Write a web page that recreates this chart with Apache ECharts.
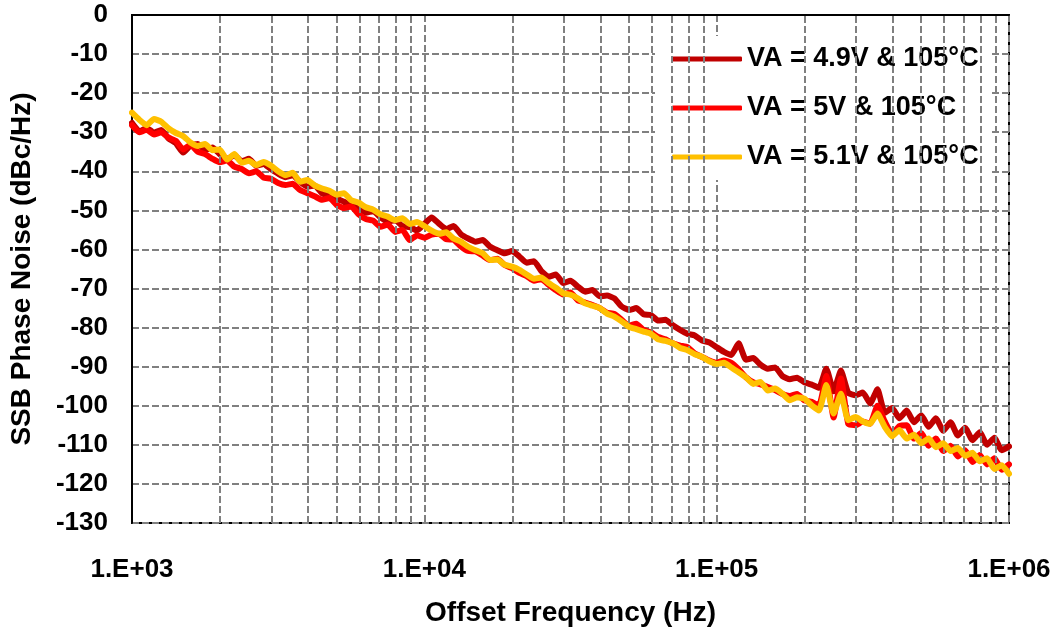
<!DOCTYPE html>
<html>
<head>
<meta charset="utf-8">
<script src="https://cdn.jsdelivr.net/npm/echarts@6/dist/echarts.min.js"></script>
<style>
  html, body { margin: 0; padding: 0; background: #fff; }
  #chart { width: 1062px; height: 632px; }
</style>
</head>
<body>
<div id="chart"></div>
<script>
// Offset frequency points (Hz), shared by all three traces
const freqHz = [
  1000, 1059, 1122, 1189, 1259, 1334, 1413, 1496, 1585, 1679,
  1778, 1884, 1995, 2113, 2239, 2371, 2512, 2661, 2818, 2985,
  3162, 3350, 3548, 3758, 3981, 4217, 4467, 4732, 5012, 5309,
  5623, 5957, 6310, 6683, 7079, 7499, 7943, 8414, 8913, 9441,
  10000, 10593, 11220, 11885, 12589, 13335, 14125, 14962, 15849, 16788,
  17783, 18836, 19953, 21135, 22387, 23714, 25119, 26607, 28184, 29854,
  31623, 33497, 35481, 37584, 39811, 42170, 44668, 47315, 50119, 53088,
  56234, 59566, 63096, 66834, 70795, 74989, 79433, 84140, 89125, 94406,
  100000, 105925, 112202, 118850, 125893, 133352, 141254, 149624, 158489, 167880,
  177828, 188365, 199526, 211349, 223872, 237137, 251189, 266073, 281838, 298538,
  316228, 334965, 354813, 375837, 398107, 421697, 446684, 473151, 501187, 530884,
  562341, 595662, 630957, 668344, 707946, 749894, 794328, 841395, 891251, 944061,
  1000000
];

// SSB phase noise (dBc/Hz), VA = 4.9 V
const noiseVA49 = [
  -27.6, -29.8, -28.9, -30.1, -29.4, -31.6, -32.8, -35.2, -33.4, -33.0,
  -34.6, -33.9, -35.6, -36.8, -35.9, -37.4, -36.8, -38.6, -38.1, -39.4,
  -40.6, -41.5, -41.0, -42.7, -43.9, -43.6, -45.6, -46.2, -47.0, -47.8,
  -48.9, -49.2, -50.6, -50.2, -51.8, -52.9, -52.5, -54.0, -54.3, -55.1,
  -53.5, -51.8, -53.4, -54.8, -54.0, -56.1, -57.2, -58.0, -57.6, -59.3,
  -60.2, -61.0, -60.4, -61.8, -63.4, -63.0, -65.5, -67.0, -66.4, -68.6,
  -68.0, -69.5, -70.8, -70.4, -72.0, -71.8, -72.5, -74.6, -75.5, -75.0,
  -76.6, -76.8, -78.2, -78.0, -79.4, -80.6, -81.6, -82.0, -83.3, -83.8,
  -85.0, -86.2, -87.0, -84.0, -88.2, -87.8, -89.5, -90.5, -90.2, -92.4,
  -93.2, -92.8, -94.0, -94.6, -95.4, -90.5, -96.3, -91.0, -96.7, -97.3,
  -96.6, -99.4, -95.8, -101.8, -100.6, -103.2, -101.2, -104.2, -102.4, -105.4,
  -103.2, -106.4, -104.2, -107.6, -105.6, -108.8, -106.8, -110.0, -108.2, -111.4,
  -110.4
];

// SSB phase noise (dBc/Hz), VA = 5 V
const noiseVA50 = [
  -28.2, -30.0, -29.4, -30.6, -30.0, -31.4, -32.2, -34.4, -33.2, -35.0,
  -35.6, -36.8, -37.7, -37.2, -38.8, -39.4, -40.5, -40.0, -41.6, -41.9,
  -43.0, -43.5, -43.2, -44.8, -45.6, -46.4, -47.3, -46.8, -48.6, -49.4,
  -49.0, -51.0, -52.2, -52.6, -54.2, -53.6, -55.5, -55.0, -57.6, -56.4,
  -57.0, -56.2, -56.0, -57.4, -57.5, -59.2, -60.4, -60.5, -61.6, -62.7,
  -62.4, -64.0, -64.8, -66.0, -66.8, -68.0, -67.6, -69.0, -70.4, -71.5,
  -71.0, -73.0, -73.6, -74.2, -75.0, -76.2, -76.5, -78.0, -79.5, -79.0,
  -80.6, -81.2, -82.4, -83.0, -84.0, -84.6, -85.0, -86.6, -87.5, -88.4,
  -89.0, -88.4, -89.0, -90.6, -92.7, -94.0, -94.5, -95.2, -96.0, -97.0,
  -97.5, -97.0, -98.6, -99.0, -100.0, -92.4, -103.0, -93.0, -104.6, -105.0,
  -104.0, -104.6, -100.0, -104.0, -107.2, -105.2, -105.0, -108.4, -107.0, -110.2,
  -108.4, -111.6, -110.2, -113.0, -111.4, -114.4, -112.6, -115.0, -113.4, -116.4,
  -115.0
];

// SSB phase noise (dBc/Hz), VA = 5.1 V
const noiseVA51 = [
  -25.0, -26.8, -28.2, -26.6, -27.3, -29.0, -30.2, -31.0, -32.6, -33.5,
  -33.0, -34.6, -34.4, -37.0, -35.6, -37.8, -37.3, -38.4, -37.6, -38.5,
  -40.0, -41.0, -40.4, -42.7, -42.2, -43.6, -44.4, -45.0, -46.0, -45.6,
  -47.4, -48.0, -49.2, -49.8, -51.0, -51.6, -52.5, -52.0, -53.5, -53.0,
  -54.0, -55.2, -56.0, -55.6, -57.2, -58.0, -59.3, -60.2, -61.0, -62.7,
  -62.6, -63.9, -64.4, -65.2, -66.4, -67.5, -67.2, -68.6, -69.8, -71.2,
  -71.6, -72.5, -73.8, -74.4, -75.0, -76.4, -77.2, -78.4, -79.8, -80.4,
  -81.0, -81.6, -83.0, -83.4, -84.0, -85.2, -85.8, -86.8, -87.5, -88.6,
  -89.3, -89.0, -90.2, -91.4, -92.7, -94.4, -93.9, -96.1, -95.6, -96.9,
  -98.6, -97.8, -98.2, -99.9, -101.2, -94.7, -102.0, -96.9, -103.7, -102.9,
  -104.0, -104.6, -102.0, -105.4, -107.8, -106.2, -108.4, -107.4, -109.6, -108.4,
  -110.6, -109.6, -111.6, -110.8, -112.8, -112.0, -114.2, -113.4, -116.2, -115.2,
  -117.4
];

const seriesNames = ['VA = 4.9V & 105°C', 'VA = 5V & 105°C', 'VA = 5.1V & 105°C'];
const seriesColors = ['#C00000', '#FF0000', '#FFC000'];
const xTickLabels = ['1.E+03', '1.E+04', '1.E+05', '1.E+06'];
// Minor vertical grid positions (2..9 within each decade)
const minorGridFreqs = [
  2000, 3000, 4000, 5000, 6000, 7000, 8000, 9000,
  20000, 30000, 40000, 50000, 60000, 70000, 80000, 90000,
  200000, 300000, 400000, 500000, 600000, 700000, 800000, 900000
];

const gridGray = '#808080';
const dashPattern = [7, 3];
const textFont = '"Liberation Sans", Arial, sans-serif';

function pairs(values) {
  return freqHz.map((f, i) => [f, values[i]]);
}

const traces = [noiseVA49, noiseVA50, noiseVA51].map((vals, i) => ({
  name: seriesNames[i],
  type: 'line',
  data: pairs(vals),
  showSymbol: false,
  symbol: 'none',
  smooth: 0.15,
  z: 3 + i,
  lineStyle: { color: seriesColors[i], width: 6, join: 'round', cap: 'round' },
  itemStyle: { color: seriesColors[i] },
  animation: false
}));

const minorGrid = {
  name: 'minor-grid',
  type: 'line',
  data: [],
  silent: true,
  z: 1,
  markLine: {
    silent: true,
    symbol: ['none', 'none'],
    label: { show: false },
    emphasis: { disabled: true },
    animation: false,
    lineStyle: { color: gridGray, width: 2, type: dashPattern },
    data: minorGridFreqs.map(f => ({ xAxis: f }))
  }
};

const chart = echarts.init(document.getElementById('chart'), null, { renderer: 'canvas' });
chart.setOption({
  animation: false,
  backgroundColor: '#ffffff',
  grid: {
    left: 130, right: 53, top: 15, bottom: 104,
    show: true, borderColor: '#000', borderWidth: 2, backgroundColor: '#fff',
    containLabel: false
  },
  legend: {
    data: seriesNames,
    orient: 'vertical',
    left: 655,
    top: 36,
    padding: [8, 13, 8, 17],
    backgroundColor: '#ffffff',
    icon: 'roundRect',
    itemWidth: 70,
    itemHeight: 5,
    itemGap: 19,
    textStyle: {
      fontFamily: textFont, fontWeight: 'bold', fontSize: 27, color: '#000',
      lineHeight: 30
    }
  },
  xAxis: {
    type: 'log',
    logBase: 10,
    min: 1000,
    max: 1000000,
    name: 'Offset Frequency (Hz)',
    nameLocation: 'middle',
    nameGap: 76,
    nameTextStyle: { fontFamily: textFont, fontWeight: 'bold', fontSize: 28, color: '#000' },
    axisLine: { show: true, lineStyle: { color: '#000', width: 2 } },
    axisTick: { show: false },
    axisLabel: {
      margin: 34,
      fontFamily: textFont, fontWeight: 'bold', fontSize: 26, color: '#000',
      formatter: v => xTickLabels[Math.round(Math.log10(v)) - 3]
    },
    splitLine: { show: true, lineStyle: { color: gridGray, width: 2, type: dashPattern } }
  },
  yAxis: {
    type: 'value',
    min: -130,
    max: 0,
    interval: 10,
    name: 'SSB Phase Noise (dBc/Hz)',
    nameLocation: 'middle',
    nameRotate: 90,
    nameGap: 96,
    nameTextStyle: { fontFamily: textFont, fontWeight: 'bold', fontSize: 28, color: '#000' },
    axisLine: { show: true, lineStyle: { color: '#000', width: 2 } },
    axisTick: { show: false },
    axisLabel: {
      margin: 24,
      fontFamily: textFont, fontWeight: 'bold', fontSize: 26, color: '#000'
    },
    splitLine: { show: true, lineStyle: { color: gridGray, width: 2, type: dashPattern } }
  },
  series: [minorGrid].concat(traces)
});
</script>
</body>
</html>
